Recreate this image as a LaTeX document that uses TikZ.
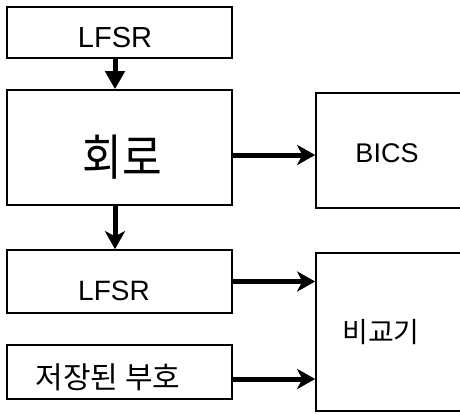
\documentclass[tikz,border=0pt]{standalone}
\usepackage{fontspec}
\setmainfont{Liberation Sans}
\newfontfamily\kor{Noto Sans CJK KR}
\usetikzlibrary{arrows.meta}
\begin{document}
\begin{tikzpicture}[x=1pt,y=-1pt,
  box/.style={draw=black,line width=1.6pt,rectangle,inner sep=0pt},
  txt/.style={inner sep=0pt,text=black},
  conn/.style={line width=5pt,black},
  tipA/.style={-{Stealth[length=18pt,width=20pt,inset=5pt]}},
  tipT/.style={-{Triangle[length=18pt,width=19pt]}}]
\useasboundingbox (0,0) rectangle (460,413);
\fill[white] (0,0) rectangle (460,413);
% boxes
\node[box,minimum width=225pt,minimum height=51pt] (lfsr1) at (119.5,32.5) {};
\node[box,minimum width=225pt,minimum height=115pt] (circ) at (119.5,147.5) {};
\node[box,minimum width=225pt,minimum height=63pt] (lfsr2) at (119.5,281.5) {};
\node[box,minimum width=225pt,minimum height=54pt] (stored) at (119.5,372) {};
\node[box,minimum width=164pt,minimum height=115pt] (bics) at (398,150.5) {};
\node[box,minimum width=164pt,minimum height=158pt] (comp) at (398,332) {};
% texts
\node[txt,anchor=base,font=\fontsize{29}{31}\selectfont] (t1) at (115,47) {LFSR};
\node[txt,xscale=0.88,font=\kor\fontsize{49}{51}\selectfont] (t2) at (122,157) {회로};
\node[txt,anchor=base,font=\fontsize{28}{30}\selectfont] (t3) at (114,300) {LFSR};
\node[txt,font=\kor\fontsize{30}{32}\selectfont] (t4) at (108,377) {저장된 부호};
\node[txt,anchor=base,font=\fontsize{27}{29}\selectfont] (t5) at (387,162) {BICS};
\node[txt,font=\kor\fontsize{28}{30}\selectfont] (t6) at (381,332) {비교기};
% helper coordinates
\coordinate (ax) at (115,0);
\coordinate (y1) at (0,155);
\coordinate (y3) at (0,379);
% connectors
\draw[conn,tipT] (lfsr1.south -| ax) -- (circ.north -| ax);
\draw[conn,tipA] (circ.south -| ax) -- (lfsr2.north -| ax);
\draw[conn,tipA] (circ.east |- y1) -- (bics.west |- y1);
\draw[conn,tipA] (lfsr2.east) -- (comp.west |- lfsr2.east);
\draw[conn,tipA] (stored.east |- y3) -- (comp.west |- y3);
\end{tikzpicture}
\end{document}
